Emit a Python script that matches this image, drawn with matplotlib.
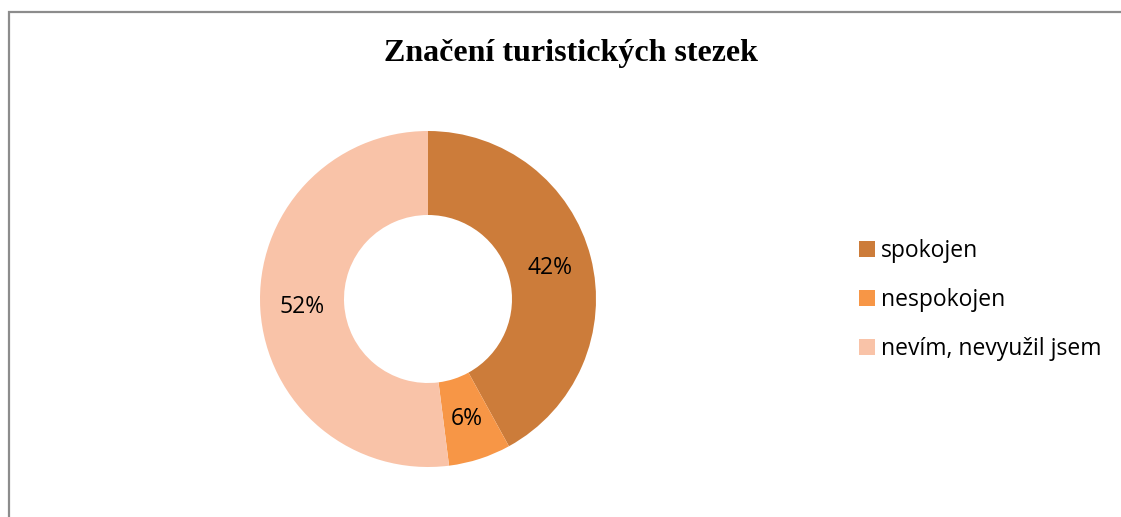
import matplotlib as mpl
mpl.use('Agg')
import matplotlib.pyplot as plt
from matplotlib.patches import Rectangle, Patch

kategorie = ["spokojen", "nespokojen", "nevím, nevyužil jsem"]
hodnoty = [42, 6, 52]
barvy = ["#CC7C3A", "#F79646", "#F9C3A8"]

W, H = 1121, 517
fig = plt.figure(figsize=(W / 100, H / 100), dpi=100)

# ramecek grafu (levy a horni okraj)
fig.patches.append(Rectangle((9 / W, -0.1), 1.2, 1 - 12 / H + 0.1, transform=fig.transFigure,
                             fill=False, edgecolor="#8c8c8c", linewidth=1.6))

cx, cy, r = 428, H - 299, 168
half = r * 1.25
ax = fig.add_axes([(cx - half) / W, (cy - half) / H, 2 * half / W, 2 * half / H])
wedges, texts, autotexts = ax.pie(hodnoty, colors=barvy, startangle=90, counterclock=False,
                                  radius=1, wedgeprops=dict(width=0.5, linewidth=0),
                                  autopct=lambda p: "{:.0f}%".format(p), pctdistance=0.75,
                                  textprops=dict(fontsize=16.5, family="Open Sans", color="black"))
ax.set_xlim(-1.25, 1.25)
ax.set_ylim(-1.25, 1.25)
ax.set_aspect("equal")
ax.axis("off")

fig.text(571 / W, 1 - 53 / H, "Značení turistických stezek", ha="center", va="center",
         fontsize=23, fontweight="bold", family="Liberation Serif")

handles = [Patch(facecolor=c, edgecolor="none") for c in barvy]
fig.legend(handles, kategorie, loc="center left", bbox_to_anchor=(859 / W, 1 - 300 / H),
           frameon=False, prop=dict(family="Open Sans", size=16.5),
           handlelength=0.7, handleheight=0.7, handletextpad=0.26, labelspacing=1.1,
           borderaxespad=0, borderpad=0)

fig.savefig("out.png", dpi=100)
